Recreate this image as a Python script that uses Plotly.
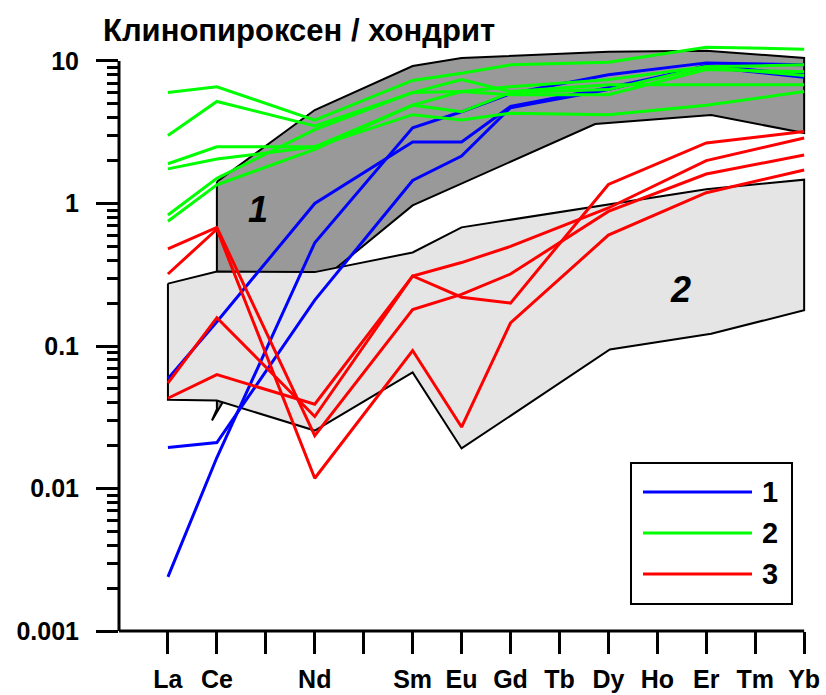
import plotly.graph_objects as go
import math

# ---------------- data ----------------
elements = ["La", "Ce", "Pr", "Nd", "Pm", "Sm", "Eu", "Gd", "Tb", "Dy", "Ho", "Er", "Tm", "Yb"]
tick_labels = ["La", "Ce", "", "Nd", "", "Sm", "Eu", "Gd", "Tb", "Dy", "Ho", "Er", "Tm", "Yb"]
measured = ["La", "Ce", "Nd", "Sm", "Eu", "Gd", "Dy", "Er", "Yb"]

blue_1 = [0.059, 0.148, 1.0, 2.7, 2.7, 4.8, 6.5, 9.1, 7.7]
blue_2 = [0.0024, 0.0165, 0.53, 3.4, 4.4, 5.9, 8.0, 9.7, 9.4]
blue_3 = [0.0194, 0.021, 0.21, 1.45, 2.15, 4.7, 6.3, 9.3, 8.0]

green_1 = [6.0, 6.6, 3.85, 7.3, 8.2, 9.4, 9.8, 12.5, 12.1]
green_2 = [3.0, 5.2, 3.5, 6.0, 7.4, 6.1, 6.8, 6.8, 6.8]
green_3 = [1.9, 2.5, 2.5, 4.9, 6.1, 6.6, 7.4, 9.1, 9.4]
green_4 = [1.75, 2.05, 2.5, 4.2, 3.85, 4.3, 4.2, 4.9, 6.1]
green_5 = [0.83, 1.5, 3.3, 6.0, 6.1, 5.8, 5.8, 8.7, 8.4]
green_6 = [0.75, 1.35, 2.4, 4.9, 4.4, 6.0, 6.3, 9.1, 7.9]

red_1 = [0.48, 0.68, 0.0235, 0.18, 0.23, 0.32, 0.88, 1.61, 2.19]
red_2 = [0.32, 0.66, 0.0118, 0.093, 0.027, 0.145, 0.6, 1.19, 1.72]
red_3 = [0.055, 0.158, 0.032, 0.31, 0.385, 0.5, 0.93, 2.0, 2.88]
red_4 = [0.043, 0.063, 0.039, 0.31, 0.22, 0.2, 1.36, 2.66, 3.2]

# field outlines (element index, chondrite-normalised value)
field1_x = [1, 3, 5, 6, 9, 11, 13, 13, 11.1, 8.73, 5, 3.45, 1.15, 0.9, 1, 1]
field1_y = [1.42, 4.53, 9.22, 10.5, 11.6, 11.8, 10.5, 3.12, 4.18, 3.61, 0.97, 0.355, 0.042, 0.030, 0.036, 1.42]

field2_x = [0, 1, 3, 3.45, 5, 6, 11, 13, 13, 11.1, 9.03, 6, 5, 3, 1, 0, 0]
field2_y = [0.274, 0.333, 0.330, 0.355, 0.453, 0.68, 1.26, 1.47, 0.178, 0.122, 0.0945, 0.0191, 0.0652, 0.0255, 0.0415, 0.042, 0.274]

y_major = [0.001, 0.01, 0.1, 1, 10]
y_major_text = ["0.001", "0.01", "0.1", "1", "10"]
y_minor = [m * 10.0 ** e for e in range(-3, 1) for m in range(2, 10)]

series = [
    ("1", "#0000FF", [blue_1, blue_2, blue_3]),
    ("2", "#00FF00", [green_1, green_2, green_3, green_4, green_5, green_6]),
    ("3", "#FF0000", [red_1, red_2, red_3, red_4]),
]

# ---------------- figure ----------------
FONT = "Liberation Sans, Arial, sans-serif"
meas_x = [elements.index(e) for e in measured]

fig = go.Figure()
fig.add_trace(go.Scatter(x=field1_x, y=field1_y, mode="lines", fill="toself",
                         fillcolor="#999999", line=dict(color="black", width=2),
                         showlegend=False, hoverinfo="skip"))
fig.add_trace(go.Scatter(x=field2_x, y=field2_y, mode="lines", fill="toself",
                         fillcolor="#E5E5E5", line=dict(color="black", width=2),
                         showlegend=False, hoverinfo="skip"))

for name, color, lines in series:
    for vals in lines:
        fig.add_trace(go.Scatter(x=meas_x, y=vals, mode="lines", name=name,
                                 line=dict(color=color, width=3), showlegend=False))

x_range = [-1, 13.14]
y_range = [-3, 1.1754]

def yfrac(v):
    return (math.log10(v) - y_range[0]) / (y_range[1] - y_range[0])

shapes = [
    # y axis line from 0.001 to 10
    dict(type="line", xref="paper", yref="paper", x0=0, x1=0, y0=yfrac(0.001), y1=yfrac(10),
         line=dict(color="black", width=3)),
    # x axis line from La-1 to Yb
    dict(type="line", xref="x", yref="paper", x0=-1, x1=13, y0=0, y1=0,
         line=dict(color="black", width=3)),
]

# custom legend box
W, H = 692.0, 595.0
def px(xp):
    return (xp - 119) / W
def py(yp):
    return (631 - yp) / H

shapes.append(dict(type="rect", xref="paper", yref="paper", x0=px(631), x1=px(792),
                   y0=py(604), y1=py(463), line=dict(color="black", width=2),
                   fillcolor="white"))
annotations = []
for i, (name, color, _) in enumerate(series):
    yy = 492 + i * 41
    shapes.append(dict(type="line", xref="paper", yref="paper", x0=px(643), x1=px(752),
                       y0=py(yy), y1=py(yy), line=dict(color=color, width=3)))
    annotations.append(dict(xref="paper", yref="paper", x=px(770), y=py(yy), text=name,
                            showarrow=False, xanchor="center", yanchor="middle",
                            font=dict(family=FONT, size=29, color="black", weight="bold")))

annotations.append(dict(xref="x", yref="y", x=1.84, y=-0.04, text="<i>1</i>", showarrow=False,
                        font=dict(family=FONT, size=36, color="black", weight="bold")))
annotations.append(dict(xref="x", yref="y", x=10.47, y=-0.607, text="<i>2</i>", showarrow=False,
                        font=dict(family=FONT, size=36, color="black", weight="bold")))

fig.update_layout(
    template="none",
    width=826, height=695,
    margin=dict(l=119, r=15, t=36, b=64, autoexpand=False),
    paper_bgcolor="white", plot_bgcolor="white",
    title=dict(text="Клинопироксен / хондрит", x=103 / 826, xanchor="left",
               y=1 - 30 / 695, yanchor="middle", automargin=False,
               font=dict(family=FONT, size=31, color="black", weight="bold")),
    shapes=shapes, annotations=annotations, showlegend=False,
)
fig.update_xaxes(range=x_range, tickvals=list(range(len(elements))), ticktext=tick_labels,
                 ticks="outside", ticklen=22, tickwidth=3, tickcolor="black",
                 showgrid=False, zeroline=False, showline=False, automargin=False,
                 tickfont=dict(family=FONT, size=25, color="black", weight="bold"),
                 ticklabelstandoff=4)
fig.update_yaxes(type="log", range=y_range, tickvals=y_major, ticktext=y_major_text,
                 ticks="outside", ticklen=22, tickwidth=3, tickcolor="black",
                 minor=dict(tickvals=y_minor, ticks="outside", ticklen=11, tickwidth=3,
                            tickcolor="black", showgrid=False),
                 showgrid=False, zeroline=False, showline=False, automargin=False,
                 tickfont=dict(family=FONT, size=25, color="black", weight="bold"),
                 ticklabelstandoff=12)

fig.write_html("out.html", config={"displayModeBar": False},
               post_script="document.body.style.margin='0';document.body.style.overflow='hidden';")
